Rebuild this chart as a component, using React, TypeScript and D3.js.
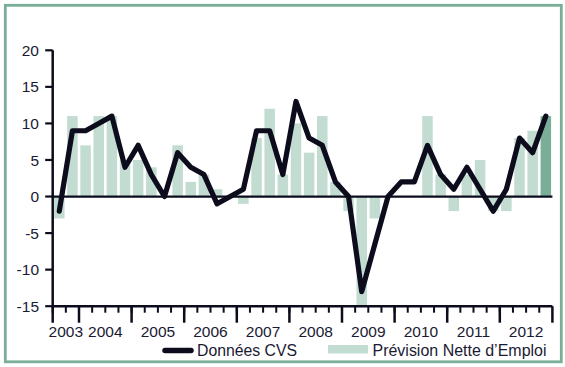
import React, { useMemo } from 'react'
import * as d3 from 'd3'

// quarters from 2003 Q3 to 2012 Q4
const years = [2003, 2004, 2005, 2006, 2007, 2008, 2009, 2010, 2011, 2012]
const quarters: string[] = years.flatMap(y => [1, 2, 3, 4].map(q => `${y}T${q}`)).slice(2)

// Prévision Nette d'Emploi (bars)
const forecast = [
    -3, 11,
    7, 11, 11, 5,
    5, 4, 0, 7,
    2, 3, 1, 0,
    -1, 8, 12, 3,
    10, 6, 11, 2,
    -2, -15, -3, 0,
    0, 0, 11, 3,
    -2, 3, 5, -2,
    -2, 8, 9, 11,
]

// Données CVS (line)
const seasonal = [
    -2, 9,
    9, 10, 11, 4,
    7, 3, 0, 6,
    4, 3, -1, 0,
    1, 9, 9, 3,
    13, 8, 7, 2,
    0, -13, -6.5, 0,
    2, 2, 7, 3,
    1, 4, 1, -2,
    1, 8, 6, 11,
]

const yTicks = [20, 15, 10, 5, 0, -5, -10, -15]

const W = 565
const H = 367
const left = 52.7
const right = 552.4
const top = 50.3
const bottom = 306.2

const textColor = '#1a1a33'
const lineColor = '#0c0c1c'
const barColor = '#c2dcd2'
const barDark = '#7aae98'
const frameColor = '#7aae98'
const font = '"Liberation Sans", Arial, sans-serif'

export default function App() {
    const x = useMemo(() => (
        d3.scaleBand<string>()
            .domain(quarters)
            .range([left, right])
            .paddingInner(0.2)
            .paddingOuter(0.1)
    ), [])

    const y = useMemo(() => (
        d3.scaleLinear()
            .domain([-15, 20])
            .range([bottom, top])
    ), [])

    const step = x.step()
    const edge = (q: string) => (x(q) as number) - step * 0.1
    const center = (q: string) => (x(q) as number) + x.bandwidth() / 2

    const line = d3.line<number>()
        .x((_, i) => center(quarters[i]))
        .y(d => y(d))

    const yearStarts = years.slice(1).map(yr => edge(`${yr}T1`))
    const yearLabels = years.map(yr => {
        const qs = quarters.filter(q => q.startsWith(String(yr)))
        const a = edge(qs[0])
        const b = edge(qs[qs.length - 1]) + step
        return { yr, cx: (a + b) / 2 }
    })

    return (
        <svg width={W} height={H} style={{ position: 'absolute', left: 0, top: 0 }} fontFamily={font}>
            <rect x={0} y={0} width={W} height={H} fill="white" />
            <rect x={5.3} y={5.3} width={556} height={356.5} fill="none" stroke={frameColor} strokeWidth={2.8} />

            {/* bars */}
            {forecast.map((v, i) => (
                <rect
                    key={i}
                    x={x(quarters[i])}
                    y={y(Math.max(0, v))}
                    width={x.bandwidth()}
                    height={Math.abs(y(v) - y(0))}
                    fill={i === forecast.length - 1 ? barDark : barColor}
                />
            ))}

            {/* zero line */}
            <line x1={left} x2={right} y1={y(0)} y2={y(0)} stroke={lineColor} strokeWidth={2.2} />

            {/* y axis */}
            <line x1={left} x2={left} y1={top} y2={bottom + 16.5} stroke={lineColor} strokeWidth={2.5} />
            {yTicks.map(t => (
                <g key={t}>
                    <line x1={left - 7.5} x2={left} y1={y(t)} y2={y(t)} stroke={lineColor} strokeWidth={2.2} />
                    <text x={39} y={y(t)} dy="0.36em" textAnchor="end" fontSize={15.5} fill={textColor}>{t}</text>
                </g>
            ))}

            {/* x axis */}
            <line x1={left} x2={right} y1={bottom} y2={bottom} stroke={lineColor} strokeWidth={2.5} />
            {quarters.map(q => (
                <line key={q} x1={edge(q)} x2={edge(q)} y1={bottom} y2={bottom + 6.5} stroke={lineColor} strokeWidth={2} />
            ))}
            {[...yearStarts, right].map((px, i) => (
                <line key={i} x1={px} x2={px} y1={bottom} y2={bottom + 16.5} stroke={lineColor} strokeWidth={2.5} />
            ))}
            {yearLabels.map(d => (
                <text key={d.yr} x={d.cx} y={336.5} textAnchor="middle" fontSize={15.5} fill={textColor}>{d.yr}</text>
            ))}

            {/* line */}
            <path d={line(seasonal) ?? ''} fill="none" stroke={lineColor} strokeWidth={5.2} strokeLinejoin="round" strokeLinecap="round" />

            {/* legend */}
            <line x1={165} x2={191} y1={350.5} y2={350.5} stroke={lineColor} strokeWidth={5.5} strokeLinecap="round" />
            <text x={197} y={355.5} fontSize={15.8} fill={textColor}>Données CVS</text>
            <rect x={328} y={345} width={40} height={8.5} fill={barColor} />
            <text x={372.5} y={355.5} fontSize={15.8} textLength={174} lengthAdjust="spacingAndGlyphs" fill={textColor}>Prévision Nette d’Emploi</text>
        </svg>
    )
}
